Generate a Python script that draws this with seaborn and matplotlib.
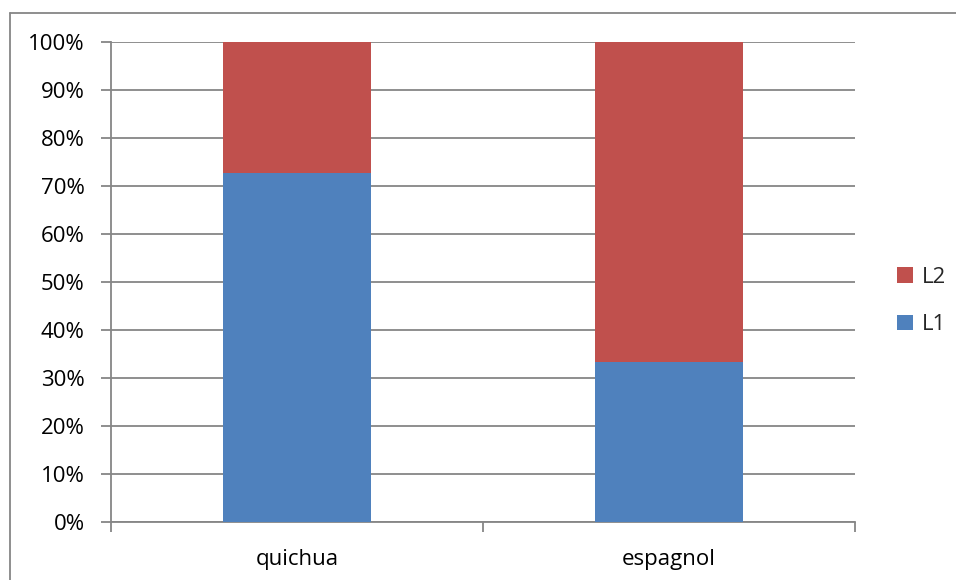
import pandas as pd
import seaborn as sns
import matplotlib.pyplot as plt
from matplotlib.lines import Line2D
from matplotlib.ticker import FixedLocator, PercentFormatter

# Data (share of speakers, %)
langues = ['quichua', 'espagnol']
l1 = [72.7, 33.3]
l2 = [27.3, 66.7]

df = pd.DataFrame({'langue': langues, 'L1': l1, 'L2': l2})
df['total'] = df['L1'] + df['L2']

sns.set_theme(style='white')
plt.rcParams['font.family'] = ['Open Sans', 'DejaVu Sans']

fig = plt.figure(figsize=(9.56, 5.8), dpi=100)
ax = fig.add_axes([111 / 956, 1 - 521.5 / 580, 744 / 956, 479.5 / 580])

grey = '#868686'
fs = 16

# stacked: draw full height in red, then L1 in blue on top
sns.barplot(data=df, x='langue', y='total', color='#C0504D', width=0.4,
            saturation=1, linewidth=0, ax=ax, label='L2', zorder=3)
sns.barplot(data=df, x='langue', y='L1', color='#4F81BD', width=0.4,
            saturation=1, linewidth=0, ax=ax, label='L1', zorder=3)

ax.set_xlim(-0.5, 1.5)
ax.set_ylim(0, 100)
ax.set_yticks(range(0, 101, 10))
ax.yaxis.set_major_formatter(PercentFormatter(decimals=0))
ax.yaxis.grid(True, color=grey, linewidth=1.3, zorder=0)
ax.set_axisbelow(True)
ax.set_xlabel('')
ax.set_ylabel('')

for s in ['top', 'right']:
    ax.spines[s].set_visible(False)
for s in ['left', 'bottom']:
    ax.spines[s].set_color(grey)
    ax.spines[s].set_linewidth(1.3)

ax.tick_params(axis='y', which='major', direction='out', length=7, width=1.3,
               color=grey, labelsize=fs, pad=12, labelcolor='black', left=True)
ax.tick_params(axis='x', which='major', length=0, labelsize=fs, pad=20,
               labelcolor='black')
ax.xaxis.set_minor_locator(FixedLocator([-0.5, 0.5, 1.5]))
ax.tick_params(axis='x', which='minor', direction='out', length=7, width=1.3,
               color=grey, bottom=True)

# legend: L2 above L1
handles, labels = ax.get_legend_handles_labels()
leg = ax.legend(handles, labels, loc='center left', bbox_to_anchor=(1.03, 0.46),
                frameon=False, fontsize=fs, handlelength=0.7, handleheight=0.7,
                handletextpad=0.4, labelspacing=1.2)

# outer chart border (top and left edges visible)
fig.add_artist(Line2D([10 / 956, 10 / 956], [-0.01, 1 - 13 / 580], color=grey,
                      linewidth=1.3, clip_on=False))
fig.add_artist(Line2D([10 / 956, 1.01], [1 - 13 / 580, 1 - 13 / 580], color=grey,
                      linewidth=1.3, clip_on=False))

fig.savefig('out.png', dpi=100)
